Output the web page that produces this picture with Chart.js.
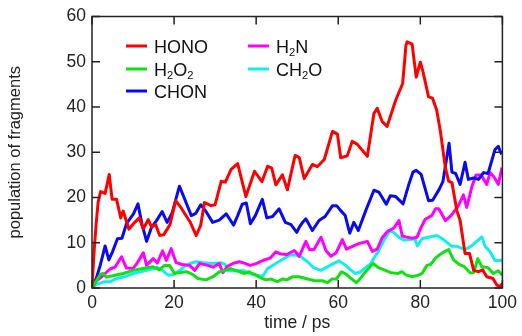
<!DOCTYPE html>
<html><head><meta charset="utf-8">
<script src="https://cdn.jsdelivr.net/npm/chart.js@4.4.1/dist/chart.umd.min.js"></script>
<style>html,body{margin:0;padding:0;background:#fff;}canvas{display:block;}</style>
</head><body>
<canvas id="c" width="522" height="336"></canvas>
<script>
// ---- data (time in ps, population) ----
const honoT = [0,0.5,1,1.5,2.1,3.2,4.2,4.9,6,7,7.6,9,10.3,11.5,12.5,13.7,14.5,15.5,16.5,17.5,19,20.4,21.5,22.7,23.9,25.4,26.5,27.4,29,30,31.5,32.5,33.9,35.5,37.5,39.6,41.4,42.8,43.8,44.8,46.4,47.6,49.5,50.5,51.7,53.7,54.9,56.6,58.6,59.8,60.6,62.2,63.4,64.6,67.1,68.7,69.5,70.7,71.9,74,75.7,76.5,76.8,78,79,80,80.6,82,83,84,84.9,86.1,86.9,87.7,88.9,89.7,90.9,92,93,94.2,95.2,96.2,97.7,98.6,99.4,100];
const honoV = [0,8,14,19,21.3,20.9,25.1,19.6,19.6,15.5,17,13,14.4,15.5,13.1,15.1,13.5,14,11.6,11.8,14,19.3,18,16.3,14.6,11.6,13.9,18.9,18.2,18.4,23.6,23.4,26.2,27.5,20.2,25.8,23.5,26.9,26.5,22.8,25,21.7,29.3,28.8,24.2,27.3,26.8,28.4,34.6,34,28.8,29.2,32.4,31.8,29.1,38.6,39.7,36.8,35.7,41.5,45.2,53.6,54.4,53.9,46.6,49.9,48,42.3,41.9,39.3,34.6,26.6,23.6,23.3,17.1,14.9,7.6,7.6,3.9,3.6,4,2.5,2.1,0.7,0.3,1];

const h2o2T = [0,1,2,2.7,3.5,5.6,7.6,10,12.4,14.9,16.4,17.7,18.9,20.1,21.4,23,24.5,25.8,27.8,29.5,31.1,32.2,33.8,35.3,37.1,38.3,40,41.2,42.4,43.5,45.2,46.5,47.5,48.9,50.5,52.5,54.2,56.1,57.4,58.5,59.6,60.8,62,63,64.4,65.3,66.5,68.5,69.8,71.5,72.8,74.5,75.5,76.5,78,79.3,80.4,81.6,82.5,83.7,84.8,85.8,86.9,88.1,89.5,90.6,92.2,93,94,95,96.5,97.8,99,100];
const h2o2V = [0,1.5,3,3.2,2.4,2.8,3.2,3.9,4.3,4.7,4,5,5,3.2,3.4,3.6,3,2.1,1.8,2.5,3.6,3.8,4.3,3.8,3.2,3.6,2.8,2.2,1.8,2,1.4,2,1.8,2.5,2.5,2,1.6,1.6,1.2,2,2,3.6,3,2.2,1.2,2,3.4,5.4,4.5,3.9,3.4,3.2,3.6,2.9,2.5,2.8,3.2,5,5.2,6.6,7.4,8,8.5,6.2,5.2,4.8,3.3,3.4,6.5,4.7,4.5,3.2,3.8,2.8];

const chonT = [0,1,2,3.2,4.1,5,6.2,7.3,8.4,10.1,11.2,12.2,13.3,14.5,15.8,17.1,18.3,19.5,21.3,22.6,24.2,25.3,26.5,27.7,29.4,31,32.7,34.5,35.5,36.6,37.6,38.6,39.8,41.5,42.6,44,45.6,47.1,48.5,49.9,50.5,51.3,52.1,53.7,55.3,56.8,58.6,59.6,60.6,61.7,62.8,63.8,64.9,66.7,68.7,69.9,71.7,72.7,74,75.8,77.2,78.2,79,80.2,82,83,84.6,85.5,87,87.7,88.6,89.7,90.9,91.7,93,94.2,95.4,96.5,98.2,99,99.8];
const chonV = [0,2,5,9.3,6.2,8,10.9,11,14.2,16.4,18.6,14,10.3,13.4,15,16.9,14.5,16.5,22.5,19.6,16,16.5,18.4,17,14.5,15,16.4,13.9,16,18.5,18.8,14.2,16,19.6,15.5,15.8,17.5,14.5,14,12.3,13.4,14.5,15.3,12.7,14.9,15.8,18.2,18.2,17.1,16,12.1,14.5,12.7,17.1,21.6,21.2,18.5,20.4,20.2,18.6,22.9,25.6,26,25.1,19.3,19.4,21.8,23.5,32,25.6,25.3,22.9,27.8,24,24.3,24,25.5,25.3,30.6,31.3,29.5];

const h2nT = [0,1,2.4,4.4,5.6,7.2,8.4,10,11,12.5,13.3,14.9,15.9,17.2,18.1,19.3,20.5,22,23.8,25,26.2,28.2,29.5,31,31.9,33,34.3,35.9,37.1,38.5,40,42,43.4,44.8,46,47.5,49.3,50.5,52.1,53,54.1,55.8,57,58.2,59.5,61,62,63.5,65,67.1,68.3,69.5,70.7,72,73.5,74.8,75.6,76.5,78,79.2,80.2,81.2,82.8,83.7,84.5,86.1,87.5,89.3,90.5,91.3,92.6,93.6,94.8,96.2,97,98,99,99.9];
const h2nV = [0,1.5,2.5,4.2,4.6,6.9,4.4,4.3,5.5,7.8,5,6.5,5.5,8.2,6.1,8.7,5.6,5.2,5,3.9,5.4,5,4.6,5.4,3.4,4.8,5.4,5.8,5.5,5,5.4,6.2,6.6,8,7.5,7.4,8.3,7,10.3,8.5,8.5,11.2,8.3,7,7.8,10.7,8.6,9.2,9.8,10.3,8.1,8.6,11.1,12.5,13.2,14.9,11.5,11.3,11,11.2,13.4,15.2,16,17.5,17.5,14.9,16,18.2,20.6,17.8,22.5,25,25,22.9,25.5,24.5,22.9,26.6];

const ch2oT = [0,1,3.2,4.5,6,8,10,11.8,13.3,14.9,15.8,17,18.6,19.8,21.4,22.6,23.8,25.4,27,29.2,31.4,32.4,33.3,35.3,37.1,38.3,40.2,41.6,42.8,44.8,46.8,48.2,49.5,50.8,52.5,54,55.8,57.8,60.2,61.8,63,64.2,65.5,67.9,69.9,71.1,72.5,73.3,74.8,76,77.5,78.6,79.3,80.4,82,84,85.5,87.7,89,90.9,92.5,95,95.8,97,98.2,100];
const ch2oV = [0,0.8,1.4,1.4,2.1,2.5,3.2,3.6,3.9,4.3,4.6,4,2.8,3,3.9,4.8,5.4,5.8,5.6,5.4,5.6,5.2,3.8,3.8,3.8,3.2,2.8,2.6,4.3,5.4,6.5,7.3,7.3,7,5.8,4.5,3.9,4.9,6,5,4,3.2,3.6,5.4,8.3,10.5,12.6,12.4,11.2,10.6,10.7,10.9,9.3,10.9,11.2,11.6,10.8,9.2,9.2,8.5,9.3,11.3,9.2,8,6.1,6.1];

const seriesNames = ['HONO', 'H_2O_2', 'CHON', 'H_2N', 'CH_2O'];
const seriesColors = ['#ff0000', '#11e011', '#0a0af0', '#ff00ff', '#11eeee'];
const xTicks = [0, 20, 40, 60, 80, 100];
const yTicks = [0, 10, 20, 30, 40, 50, 60];

const FONT = '"Liberation Sans", Arial, sans-serif';
const pts = (t, v) => t.map((x, i) => ({x: x, y: v[i]}));
const seriesData = [pts(honoT, honoV), pts(h2o2T, h2o2V), pts(chonT, chonV), pts(h2nT, h2nV), pts(ch2oT, ch2oV)];

function drawRich(ctx, str, x, y, size) {
  // draws text with "_d" subscripts; y is the baseline
  let cx = x;
  for (let i = 0; i < str.length; i++) {
    const ch = str[i];
    if (ch === '_' && i + 1 < str.length) {
      const sub = str[i + 1];
      ctx.font = (size * 0.62) + 'px ' + FONT;
      ctx.fillText(sub, cx, y + size * 0.18);
      cx += ctx.measureText(sub).width;
      i++;
    } else {
      ctx.font = size + 'px ' + FONT;
      ctx.fillText(ch, cx, y);
      cx += ctx.measureText(ch).width;
    }
  }
}

const framePlugin = {
  id: 'frame',
  afterDatasetsDraw(chart) {
    const ctx = chart.ctx, a = chart.chartArea;
    const xs = chart.scales.x, ys = chart.scales.y;
    ctx.save();
    ctx.strokeStyle = '#222';
    ctx.lineWidth = 1.5;
    ctx.strokeRect(a.left, a.top, a.right - a.left, a.bottom - a.top);
    const L = 8;
    ctx.beginPath();
    xTicks.forEach(t => {
      const px = xs.getPixelForValue(t);
      ctx.moveTo(px, a.bottom); ctx.lineTo(px, a.bottom - L);
      ctx.moveTo(px, a.top); ctx.lineTo(px, a.top + L);
    });
    yTicks.forEach(t => {
      const py = ys.getPixelForValue(t);
      ctx.moveTo(a.left, py); ctx.lineTo(a.left + L, py);
      ctx.moveTo(a.right, py); ctx.lineTo(a.right - L, py);
    });
    ctx.stroke();
    // legend
    const cols = [{lx: 126, tx: 154}, {lx: 248, tx: 276}];
    const rows = [46, 69, 91];
    const order = [[0,0,0],[1,0,1],[2,0,2],[3,1,0],[4,1,1]];
    order.forEach(([k, c, r]) => {
      const y = rows[r];
      ctx.strokeStyle = seriesColors[k];
      ctx.lineWidth = 3;
      ctx.beginPath();
      ctx.moveTo(cols[c].lx, y); ctx.lineTo(cols[c].lx + 21, y);
      ctx.stroke();
      ctx.fillStyle = '#111';
      ctx.textBaseline = 'alphabetic';
      ctx.textAlign = 'left';
      drawRich(ctx, seriesNames[k], cols[c].tx, y + 7, 18);
    });
    ctx.restore();
  }
};

new Chart(document.getElementById('c'), {
  type: 'line',
  data: {
    datasets: seriesData.map((d, i) => ({
      label: seriesNames[i].replace(/_/g, ''),
      data: d,
      borderColor: seriesColors[i],
      backgroundColor: seriesColors[i],
      borderWidth: 3,
      pointRadius: 0,
      tension: 0,
      fill: false,
      borderJoinStyle: 'round'
    }))
  },
  options: {
    responsive: false,
    animation: false,
    layout: {padding: {top: 14, right: 18, left: 0, bottom: 0}},
    plugins: {legend: {display: false}, tooltip: {enabled: false}},
    scales: {
      x: {
        type: 'linear', min: 0, max: 100,
        afterBuildTicks: s => { s.ticks = xTicks.map(v => ({value: v})); },
        afterFit: s => { s.height = 48; },
        grid: {display: false, drawTicks: false},
        border: {display: false},
        ticks: {color: '#222', font: {family: FONT, size: 17.5}, padding: 5, maxRotation: 0},
        title: {display: true, text: 'time / ps', color: '#222', font: {family: FONT, size: 17.5}, padding: {top: 0, bottom: 2}}
      },
      y: {
        type: 'linear', min: 0, max: 60,
        afterBuildTicks: s => { s.ticks = yTicks.map(v => ({value: v})); },
        afterFit: s => { s.width = 92; },
        grid: {display: false, drawTicks: false},
        border: {display: false},
        ticks: {color: '#222', font: {family: FONT, size: 17.5}, padding: 6},
        title: {display: true, text: 'population of fragments', color: '#222', font: {family: FONT, size: 16.5}, padding: {top: 6, bottom: 0}}
      }
    }
  },
  plugins: [framePlugin]
});
</script>
</body></html>
